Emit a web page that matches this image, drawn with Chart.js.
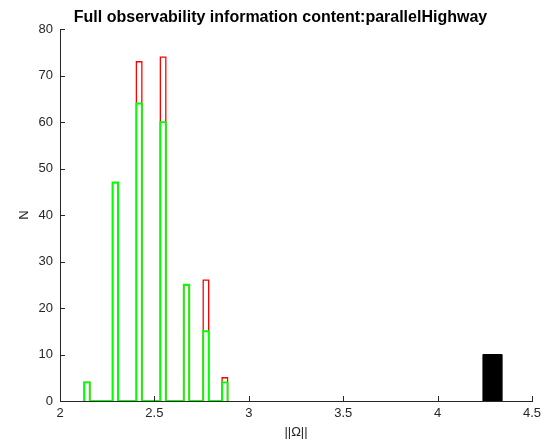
<!DOCTYPE html>
<html>
<head>
<meta charset="utf-8">
<script src="https://cdn.jsdelivr.net/npm/chart.js@4/dist/chart.umd.min.js"></script>
<style>
  html, body { margin: 0; padding: 0; background: #fff; }
  #wrap { width: 550px; height: 444px; }
</style>
</head>
<body>
<div id="wrap"><canvas id="histChart" width="550" height="444"></canvas></div>
<script>
  // bin centres of the ||Omega|| histogram and the counts per bin
  var binCenters = [2.143, 2.293, 2.419, 2.546, 2.670, 2.773, 2.873];
  var fullCounts = [4, 47, 64, 60, 25, 15, 4];      // green
  var totalCounts = [4, 47, 73, 74, 25, 26, 5];     // red
  var binWidth = 0.029;

  // the single reference bin (black)
  var refCenter = [4.29];
  var refCount = [10];
  var refWidth = 0.1;

  var xTicks = [2, 2.5, 3, 3.5, 4, 4.5];
  var yTicks = [0, 10, 20, 30, 40, 50, 60, 70, 80];

  var axisColor = "#262626";
  var fontFamily = "'Liberation Sans', Arial, Helvetica, sans-serif";

  // outline of a histogram as one stair path along the baseline
  function stairs(centers, counts, w) {
    var pts = [];
    for (var i = 0; i < centers.length; i++) {
      var l = centers[i] - w / 2, r = centers[i] + w / 2;
      pts.push({ x: l, y: 0 }, { x: l, y: counts[i] }, { x: r, y: counts[i] }, { x: r, y: 0 });
    }
    return pts;
  }

  // ticks pointing into the axes, like the old matlab plots
  var inwardTicks = {
    id: "inwardTicks",
    afterDraw: function (chart) {
      var ctx = chart.ctx, a = chart.chartArea;
      var xs = chart.scales.x, ys = chart.scales.y;
      ctx.save();
      ctx.strokeStyle = axisColor;
      ctx.lineWidth = 1;
      ctx.beginPath();
      xTicks.forEach(function (t) {
        var px = Math.round(xs.getPixelForValue(t)) + 0.5;
        ctx.moveTo(px, a.bottom);
        ctx.lineTo(px, a.bottom - 5);
      });
      yTicks.forEach(function (t) {
        var py = Math.round(ys.getPixelForValue(t)) + 0.5;
        ctx.moveTo(a.left, py);
        ctx.lineTo(a.left + 5, py);
      });
      ctx.stroke();
      ctx.restore();
    }
  };

  var ctx = document.getElementById("histChart").getContext("2d");
  var myChart = new Chart(ctx, {
    type: "line",
    data: {
      datasets: [
        {
          label: "full",
          data: stairs(binCenters, fullCounts, binWidth),
          borderColor: "#00ff00",
          borderWidth: 1.9,
          pointRadius: 0,
          fill: false
        },
        {
          label: "total",
          data: stairs(binCenters, totalCounts, binWidth),
          borderColor: "#ff0000",
          borderWidth: 1.3,
          pointRadius: 0,
          fill: false
        },
        {
          label: "ref",
          data: stairs(refCenter, refCount, refWidth),
          borderColor: "#000000",
          backgroundColor: "#000000",
          borderWidth: 1,
          pointRadius: 0,
          fill: "origin"
        }
      ]
    },
    options: {
      responsive: false,
      animation: false,
      layout: { padding: { left: 29, right: 18, top: 0, bottom: 0 } },
      plugins: {
        legend: { display: false },
        tooltip: { enabled: false },
        title: {
          display: true,
          text: "Full observability information content:parallelHighway",
          color: "#000",
          font: { family: fontFamily, size: 16, weight: "bold" },
          padding: { top: 8, bottom: 2 }
        }
      },
      scales: {
        x: {
          type: "linear",
          min: 2,
          max: 4.5,
          afterBuildTicks: function (s) { s.ticks = xTicks.map(function (v) { return { value: v }; }); },
          afterFit: function (s) { s.height = 43; s.paddingLeft = 0; s.paddingRight = 0; },
          grid: { display: false, drawTicks: false },
          border: { display: true, color: axisColor, width: 1 },
          ticks: {
            color: axisColor,
            padding: 5,
            maxRotation: 0,
            font: { family: fontFamily, size: 13 },
            callback: function (v) { return String(v); }
          },
          title: {
            display: true,
            text: "||Ω||",
            color: axisColor,
            font: { family: fontFamily, size: 13 },
            padding: { top: 0, bottom: 4 }
          }
        },
        y: {
          min: 0,
          max: 80,
          afterBuildTicks: function (s) { s.ticks = yTicks.map(function (v) { return { value: v }; }); },
          afterFit: function (s) { s.width = 31; s.paddingTop = 0; s.paddingBottom = 0; },
          grid: { display: false, drawTicks: false },
          border: { display: true, color: axisColor, width: 1 },
          ticks: {
            color: axisColor,
            padding: 7,
            font: { family: fontFamily, size: 13 },
            callback: function (v) { return String(v); }
          },
          title: {
            display: true,
            text: "N",
            color: axisColor,
            font: { family: fontFamily, size: 13 },
            padding: { top: -12, bottom: 0 }
          }
        }
      }
    },
    plugins: [inwardTicks]
  });
</script>
</body>
</html>
